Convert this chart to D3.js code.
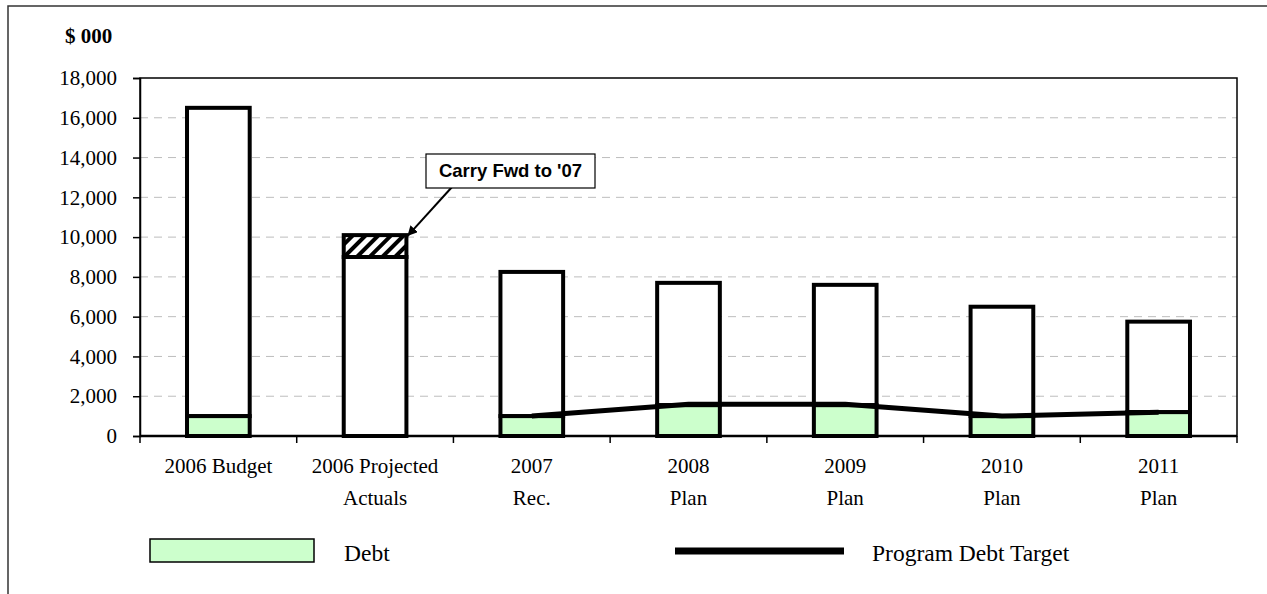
<!DOCTYPE html>
<html><head><meta charset="utf-8">
<script src="https://cdn.jsdelivr.net/npm/d3@7"></script>
<style>body{margin:0;background:#fff}</style>
</head><body>
<svg id="c" width="1267" height="594"></svg>
<script>
const categories = [["2006 Budget"],["2006 Projected","Actuals"],["2007","Rec."],["2008","Plan"],["2009","Plan"],["2010","Plan"],["2011","Plan"]];
const totals = [16500, 10100, 8250, 7700, 7600, 6500, 5750];
const debt = [1000, 0, 1000, 1550, 1550, 1000, 1200];
const carryFwd = [0, 1100, 0, 0, 0, 0, 0];
const targetCats = [2, 3, 4, 5, 6];
const targetValues = [1000, 1600, 1600, 1000, 1200];
const yTicks = [0,2000,4000,6000,8000,10000,12000,14000,16000,18000];

const svg = d3.select("#c");
const L = 140, R = 1237, T = 78, B = 436;
const x = d3.scaleBand().domain(d3.range(categories.length)).range([L, R]).paddingInner(0.6).paddingOuter(0.3);
const xb = d3.scaleBand().domain(d3.range(categories.length)).range([L, R]);
const y = d3.scaleLinear().domain([0, 18000]).range([B, T]);
const serif = "'Liberation Serif', 'Times New Roman', serif";

// outer frame (top + left)
svg.append("path").attr("d", `M8,594V6H1267`).attr("fill","none").attr("stroke","#333").attr("stroke-width",1.5);

// hatch pattern
const defs = svg.append("defs");
const pat = defs.append("pattern").attr("id","hatch").attr("patternUnits","userSpaceOnUse")
  .attr("width",9).attr("height",9).attr("patternTransform","rotate(45)");
pat.append("rect").attr("width",9).attr("height",9).attr("fill","#fff");
pat.append("rect").attr("x",0).attr("width",4).attr("height",9).attr("fill","#000");

// gridlines
svg.append("g").selectAll("line").data(yTicks.filter(t => t > 0 && t < 18000)).join("line")
  .attr("x1", L).attr("x2", R).attr("y1", d => y(d)).attr("y2", d => y(d))
  .attr("stroke","#bdbdbd").attr("stroke-width",1).attr("stroke-dasharray","8,6");

// plot frame
svg.append("rect").attr("x",L).attr("y",T).attr("width",R-L).attr("height",B-T)
  .attr("fill","none").attr("stroke","#000").attr("stroke-width",1.5);

// y axis
const yAxis = svg.append("g").attr("transform",`translate(${L},0)`)
  .call(d3.axisLeft(y).tickValues(yTicks).tickSize(7).tickPadding(16).tickFormat(d3.format(",")));
yAxis.select(".domain").attr("stroke","#000").attr("stroke-width",1.5);
yAxis.selectAll(".tick line").attr("stroke","#000").attr("stroke-width",1.5);
yAxis.selectAll("text").attr("font-family",serif).attr("font-size",21).attr("fill","#000");

// x axis ticks at band boundaries
const bounds = d3.range(categories.length + 1).map(i => L + i * xb.step());
svg.append("g").selectAll("line").data(bounds).join("line")
  .attr("x1", d => d).attr("x2", d => d).attr("y1", B).attr("y2", B + 7)
  .attr("stroke","#000").attr("stroke-width",1.5);
svg.append("line").attr("x1",L).attr("x2",R).attr("y1",B).attr("y2",B).attr("stroke","#000").attr("stroke-width",2.5);

// x labels
const xl = svg.append("g").selectAll("text").data(categories).join("text")
  .attr("x", (d,i) => xb(i) + xb.bandwidth()/2).attr("y", 473)
  .attr("text-anchor","middle").attr("font-family",serif).attr("font-size",21).attr("fill","#000");
xl.selectAll("tspan").data(d => d).join("tspan")
  .attr("x", function(){ return this.parentNode.getAttribute("x"); })
  .attr("dy", (d,j) => j === 0 ? 0 : 32).text(d => d);

// bars
const bars = svg.append("g");
categories.forEach((c,i) => {
  const bx = x(i), bw = x.bandwidth();
  const base = totals[i] - carryFwd[i];
  bars.append("rect").attr("x",bx).attr("width",bw)
    .attr("y", y(base)).attr("height", y(debt[i]) - y(base))
    .attr("fill","#fff").attr("stroke","#000").attr("stroke-width",4);
  if (debt[i] > 0) {
    bars.append("rect").attr("x",bx).attr("width",bw)
      .attr("y", y(debt[i])).attr("height", y(0) - y(debt[i]))
      .attr("fill","#ccffcc").attr("stroke","#000").attr("stroke-width",4);
  }
  if (carryFwd[i] > 0) {
    bars.append("rect").attr("x",bx).attr("width",bw)
      .attr("y", y(totals[i])).attr("height", y(base) - y(totals[i]))
      .attr("fill","url(#hatch)").attr("stroke","#000").attr("stroke-width",4);
  }
});

// target line
const line = d3.line().x((d,k) => xb(targetCats[k]) + xb.bandwidth()/2).y(d => y(d));
svg.append("path").datum(targetValues).attr("d", line)
  .attr("fill","none").attr("stroke","#000").attr("stroke-width",5).attr("stroke-linejoin","round");

// $ 000
svg.append("text").attr("x",65).attr("y",43).text("$ 000")
  .attr("font-family",serif).attr("font-weight","bold").attr("font-size",21);

// annotation
defs.append("marker").attr("id","arr").attr("viewBox","0 0 10 10").attr("refX",10).attr("refY",5)
  .attr("markerWidth",5).attr("markerHeight",5).attr("orient","auto")
  .append("path").attr("d","M0,0L10,5L0,10z").attr("fill","#000");
const ax = x(1) + x.bandwidth(), ay = y(totals[1]);
svg.append("line").attr("x1",452).attr("y1",187).attr("x2",ax + 1).attr("y2",ay + 1)
  .attr("stroke","#000").attr("stroke-width",2).attr("marker-end","url(#arr)");
svg.append("rect").attr("x",426).attr("y",154).attr("width",169).attr("height",34)
  .attr("fill","#fff").attr("stroke","#000").attr("stroke-width",1.2);
svg.append("text").attr("x",510.5).attr("y",177).attr("text-anchor","middle").text("Carry Fwd to '07")
  .attr("font-family","'Liberation Sans', Arial, sans-serif").attr("font-weight","bold").attr("font-size",18.5);

// legend
svg.append("rect").attr("x",150).attr("y",539).attr("width",164).attr("height",23)
  .attr("fill","#ccffcc").attr("stroke","#000").attr("stroke-width",1.5);
svg.append("text").attr("x",344).attr("y",561).text("Debt")
  .attr("font-family",serif).attr("font-size",23.5);
svg.append("line").attr("x1",675).attr("x2",844).attr("y1",551).attr("y2",551)
  .attr("stroke","#000").attr("stroke-width",7);
svg.append("text").attr("x",872).attr("y",561).text("Program Debt Target")
  .attr("font-family",serif).attr("font-size",23.5);
</script>
</body></html>
